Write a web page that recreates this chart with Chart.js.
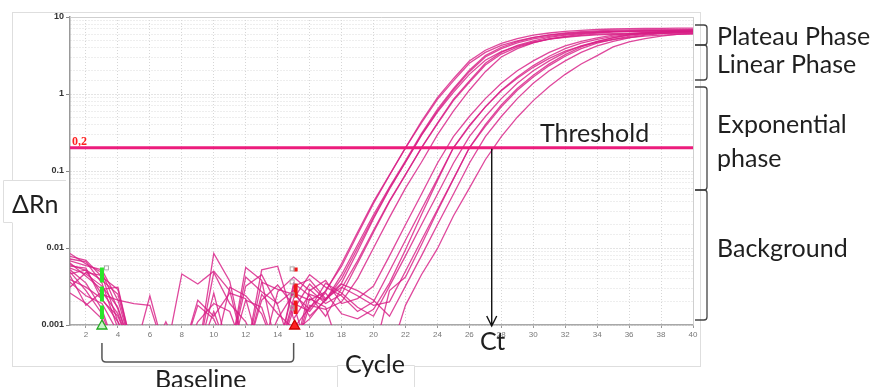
<!DOCTYPE html>
<html>
<head>
<meta charset="utf-8">
<script src="https://cdn.jsdelivr.net/npm/chart.js@4.4.1/dist/chart.umd.min.js"></script>
<style>
  html, body { margin: 0; padding: 0; background: #fff; }
  canvas { display: block; }
</style>
</head>
<body>
<canvas id="amp" width="882" height="387"></canvas>
<script>
// cycle numbers and axis ticks
var cycles = [];
for (var c = 1; c <= 40; c++) cycles.push(c);
var xTicks = [2, 4, 6, 8, 10, 12, 14, 16, 18, 20, 22, 24, 26, 28, 30, 32, 34, 36, 38, 40];
var yMajor = [0.001, 0.01, 0.1, 1, 10];
var yTickLabels = ['0.001', '0.01', '0.1', '1', '10'];

var threshold = 0.2;   // threshold line
var ctCycle = 27.4;    // where the last well crosses it
var baselineStart = 3;
var baselineEnd = 15;

// delta Rn per well, cycles 1..40 (0.0004 = below the axis)
var wellA1 = [0.0085,0.0062,0.0048,0.0016,0.0004,0.0004,0.0004,0.0004,0.0004,0.0004,0.0004,0.0004,0.0004,0.0012,0.0026,0.0021,0.0027,0.0063,0.016,0.04,0.089,0.2,0.42,0.85,1.48,2.51,3.47,4.27,4.9,5.43,5.82,6.1,6.31,6.46,6.53,6.58,6.62,6.65,6.68,6.7];
var wellA2 = [0.0072,0.0066,0.0035,0.0009,0.0004,0.0004,0.0004,0.0046,0.0034,0.005,0.0028,0.0004,0.0004,0.0004,0.0016,0.0034,0.0021,0.004,0.01,0.025,0.06,0.13,0.295,0.6,1.12,1.95,3.02,3.89,4.62,5.19,5.62,5.96,6.2,6.38,6.5,6.55,6.6,6.63,6.66,6.68];
var wellA3 = [0.0058,0.0055,0.0021,0.0013,0.0004,0.0024,0.0004,0.0004,0.0004,0.0004,0.0004,0.0021,0.0017,0.0004,0.0008,0.0012,0.0022,0.0035,0.009,0.024,0.058,0.13,0.29,0.58,1.05,1.8,2.75,3.55,4.2,4.75,5.15,5.45,5.7,5.85,5.95,6.02,6.08,6.12,6.15,6.18];
var wellA4 = [0.0046,0.0052,0.0038,0.0025,0.0004,0.0004,0.0004,0.0004,0.0004,0.0015,0.0004,0.0032,0.0045,0.0018,0.0004,0.0029,0.0019,0.0025,0.0063,0.016,0.04,0.089,0.2,0.42,0.85,1.48,2.51,3.47,4.27,4.9,5.43,5.82,6.1,6.31,6.46,6.53,6.6,6.65,6.7,6.75];
var wellA5 = [0.0068,0.0059,0.0052,0.0021,0.0019,0.0018,0.0004,0.0004,0.0004,0.0004,0.0004,0.0004,0.0004,0.0004,0.0019,0.0015,0.0028,0.0058,0.015,0.038,0.088,0.2,0.44,0.9,1.58,2.68,3.7,4.55,5.25,5.8,6.2,6.5,6.72,6.88,6.98,7.05,7.1,7.13,7.16,7.18];
var wellA6 = [0.0031,0.0048,0.0044,0.0011,0.0004,0.0004,0.0004,0.0004,0.0021,0.0013,0.0026,0.0022,0.0004,0.0004,0.0035,0.0024,0.0013,0.003,0.0068,0.017,0.041,0.09,0.2,0.41,0.82,1.42,2.38,3.3,4.05,4.65,5.15,5.52,5.78,5.98,6.1,6.16,6.2,6.23,6.25,6.27];
var wellA7 = [0.0052,0.0035,0.0016,0.0004,0.0004,0.0004,0.0011,0.0004,0.0004,0.0085,0.0037,0.0004,0.0004,0.0004,0.0004,0.0018,0.0016,0.002,0.004,0.01,0.025,0.06,0.13,0.295,0.6,1.12,1.95,3.02,3.89,4.62,5.19,5.62,5.96,6.2,6.38,6.5,6.56,6.6,6.63,6.66];
var wellA8 = [0.0078,0.0069,0.0042,0.0029,0.0004,0.0004,0.0004,0.0004,0.0004,0.0004,0.0004,0.0004,0.0052,0.0058,0.0012,0.0025,0.0021,0.0045,0.011,0.027,0.062,0.135,0.305,0.63,1.17,2.04,3.15,4.05,4.8,5.4,5.85,6.2,6.45,6.62,6.74,6.8,6.85,6.88,6.9,6.92];
var wellB1 = [0.0036,0.0024,0.0019,0.0008,0.0004,0.0004,0.0004,0.0004,0.0011,0.0019,0.0015,0.0004,0.0004,0.0027,0.0042,0.0028,0.0038,0.0019,0.0022,0.0032,0.0079,0.02,0.05,0.126,0.28,0.51,0.87,1.38,2.0,2.69,3.47,4.22,4.84,5.37,5.82,6.1,6.31,6.42,6.5,6.55];
var wellB2 = [0.0064,0.0043,0.0029,0.0031,0.0004,0.0004,0.0004,0.0004,0.0004,0.0004,0.0004,0.0056,0.0038,0.0004,0.0022,0.0045,0.0031,0.0024,0.0015,0.002,0.005,0.0126,0.0316,0.079,0.2,0.38,0.68,1.12,1.66,2.34,3.09,3.89,4.57,5.13,5.62,5.96,6.17,6.38,6.46,6.52];
var wellB3 = [0.0044,0.0018,0.0027,0.0014,0.0004,0.0004,0.0004,0.0004,0.0004,0.0026,0.0004,0.0004,0.0025,0.0014,0.0009,0.0017,0.0026,0.0014,0.0012,0.0016,0.0035,0.0095,0.027,0.075,0.2,0.39,0.68,1.1,1.6,2.22,2.9,3.6,4.2,4.7,5.1,5.42,5.65,5.82,5.93,6.0];
var wellB4 = [0.0026,0.0019,0.0012,0.0004,0.0004,0.0004,0.0004,0.0004,0.0018,0.0012,0.0004,0.0004,0.0036,0.0029,0.0025,0.0016,0.0035,0.0026,0.0017,0.0013,0.0032,0.0079,0.02,0.05,0.126,0.28,0.51,0.87,1.38,2.0,2.69,3.47,4.22,4.84,5.37,5.82,6.1,6.31,6.42,6.5];
var wellB5 = [0.0055,0.0046,0.0032,0.0017,0.0004,0.0004,0.0004,0.0004,0.0004,0.0048,0.0019,0.0011,0.0004,0.0004,0.0032,0.0039,0.0022,0.0031,0.0024,0.0018,0.002,0.005,0.0126,0.0316,0.079,0.2,0.38,0.68,1.12,1.66,2.34,3.09,3.89,4.57,5.13,5.62,5.96,6.17,6.38,6.46];
var wellB6 = [0.0061,0.0051,0.0025,0.0021,0.0004,0.0004,0.0004,0.0004,0.0004,0.0004,0.0031,0.0024,0.0014,0.0004,0.0004,0.0022,0.0017,0.0004,0.0004,0.0004,0.0028,0.0042,0.011,0.03,0.078,0.2,0.4,0.72,1.18,1.75,2.46,3.25,4.08,4.8,5.38,5.88,6.22,6.45,6.6,6.7];
var wellB7 = [0.0039,0.0031,0.0022,0.0011,0.0004,0.0004,0.0004,0.0004,0.0004,0.0004,0.0004,0.0042,0.0027,0.0019,0.0028,0.0013,0.0021,0.0034,0.0028,0.0021,0.0013,0.0032,0.0079,0.02,0.05,0.126,0.28,0.51,0.87,1.38,2.0,2.69,3.47,4.22,4.84,5.37,5.82,6.1,6.31,6.42];
var wellB8 = [0.0049,0.0028,0.0014,0.0004,0.0004,0.0004,0.0004,0.0004,0.0004,0.0004,0.0004,0.0004,0.0021,0.0033,0.0018,0.0004,0.0004,0.0004,0.0004,0.0004,0.0004,0.0018,0.0045,0.0098,0.026,0.06,0.14,0.28,0.5,0.82,1.25,1.8,2.45,3.15,4.1,4.75,5.25,5.65,5.95,6.15];

var wells = [wellA1, wellA2, wellA3, wellA4, wellA5, wellA6, wellA7, wellA8,
             wellB1, wellB2, wellB3, wellB4, wellB5, wellB6, wellB7, wellB8];

function isPow10(v) {
    var l = Math.log10(v);
    return Math.abs(l - Math.round(l)) < 1e-6;
}

var datasets = [{
    data: [{x: 1, y: threshold}, {x: 40, y: threshold}],
    borderColor: '#ec1c7c',
    borderWidth: 3,
    pointRadius: 0,
    order: 0
}];
wells.forEach(function(w) {
    datasets.push({
        data: cycles.map(function(c, i) { return {x: c, y: w[i]}; }),
        borderColor: 'rgba(216,30,134,0.82)',
        borderWidth: 1.3,
        pointRadius: 0,
        tension: 0,
        order: 1
    });
});

function bracketRight(ctx, xl, xr, y1, y2, r) {
    ctx.beginPath();
    ctx.moveTo(xl, y1);
    ctx.lineTo(xr - r, y1);
    ctx.quadraticCurveTo(xr, y1, xr, y1 + r);
    ctx.lineTo(xr, y2 - r);
    ctx.quadraticCurveTo(xr, y2, xr - r, y2);
    ctx.lineTo(xl, y2);
    ctx.stroke();
}

var notes = {
    id: 'notes',
    beforeDraw: function(chart) {
        var ctx = chart.ctx;
        ctx.save();
        ctx.fillStyle = '#fff';
        ctx.fillRect(0, 0, chart.width, chart.height);
        ctx.strokeStyle = '#dedede';
        ctx.lineWidth = 1;
        ctx.strokeRect(12.5, 12.5, 688, 354);
        ctx.restore();
    },
    afterDatasetsDraw: function(chart) {
        // solid top and right edges of the plot box
        var ctx = chart.ctx, a = chart.chartArea;
        ctx.save();
        ctx.strokeStyle = '#cfcfcf';
        ctx.lineWidth = 1;
        ctx.beginPath();
        ctx.moveTo(a.left, a.top + 0.5); ctx.lineTo(a.right + 0.5, a.top + 0.5); ctx.lineTo(a.right + 0.5, a.bottom);
        ctx.stroke();
        ctx.restore();
    },
    afterDraw: function(chart) {
        var ctx = chart.ctx;
        var xs = chart.scales.x, ys = chart.scales.y;
        var area = chart.chartArea;
        ctx.save();

        // baseline markers
        var xb1 = xs.getPixelForValue(baselineStart);
        var xb2 = xs.getPixelForValue(baselineEnd);
        var mTop = ys.getPixelForValue(0.0056), mBot = ys.getPixelForValue(0.0012);
        ctx.lineWidth = 4;
        ctx.strokeStyle = '#29e629';
        ctx.setLineDash([15, 4]);
        ctx.beginPath(); ctx.moveTo(xb1, mTop); ctx.lineTo(xb1, mBot); ctx.stroke();
        ctx.strokeStyle = '#f01818';
        ctx.setLineDash([4, 12, 14, 3, 14]);
        ctx.beginPath(); ctx.moveTo(xb2 + 2, mTop); ctx.lineTo(xb2 + 2, mBot - 5); ctx.stroke();
        ctx.setLineDash([]);
        ctx.lineWidth = 1;
        ctx.strokeStyle = '#aaa';
        ctx.strokeRect(xb1 + 2.5, mTop - 1.5, 4, 4);
        [0, 13, 26, 39].forEach(function(d) { ctx.strokeRect(xb2 - 3.5, mTop + d - 0.5, 4, 4); });
        // triangles
        ctx.beginPath();
        ctx.moveTo(xb1, area.bottom - 5); ctx.lineTo(xb1 + 5, area.bottom + 4); ctx.lineTo(xb1 - 5, area.bottom + 4); ctx.closePath();
        ctx.fillStyle = '#c9f3c9'; ctx.fill();
        ctx.strokeStyle = '#22aa22'; ctx.lineWidth = 1.3; ctx.stroke();
        ctx.beginPath();
        ctx.moveTo(xb2 + 1, area.bottom - 5); ctx.lineTo(xb2 + 6, area.bottom + 4); ctx.lineTo(xb2 - 4, area.bottom + 4); ctx.closePath();
        ctx.fillStyle = '#f22'; ctx.fill();
        ctx.strokeStyle = '#c00'; ctx.stroke();

        // threshold label
        var yt = ys.getPixelForValue(threshold);
        ctx.fillStyle = '#ff1f1f';
        ctx.font = 'bold 12px "Liberation Serif"';
        ctx.fillText('0,2', area.left + 2, yt - 3);

        // Ct arrow
        var xc = xs.getPixelForValue(ctCycle);
        ctx.strokeStyle = '#111';
        ctx.lineWidth = 1.4;
        ctx.beginPath();
        ctx.moveTo(xc, yt + 1); ctx.lineTo(xc, area.bottom + 1);
        ctx.moveTo(xc - 5, area.bottom - 9); ctx.lineTo(xc, area.bottom + 1); ctx.lineTo(xc + 5, area.bottom - 9);
        ctx.stroke();

        // label boxes that sit over the frame
        ctx.fillStyle = '#fff';
        ctx.fillRect(3, 180, 62, 43);
        ctx.fillRect(337, 365, 78, 22);
        ctx.strokeStyle = '#dedede';
        ctx.lineWidth = 1;
        ctx.beginPath();
        ctx.moveTo(66, 180.5); ctx.lineTo(3.5, 180.5); ctx.lineTo(3.5, 222.5); ctx.lineTo(12.5, 222.5);
        ctx.moveTo(337.5, 387); ctx.lineTo(337.5, 365.5); ctx.lineTo(414.5, 365.5); ctx.lineTo(414.5, 387);
        ctx.stroke();

        // baseline bracket
        ctx.strokeStyle = '#555';
        ctx.lineWidth = 1.5;
        ctx.beginPath();
        ctx.moveTo(xb1, 343); ctx.lineTo(xb1, 358);
        ctx.quadraticCurveTo(xb1, 362, xb1 + 4, 362);
        ctx.lineTo(xb2 - 4, 362);
        ctx.quadraticCurveTo(xb2, 362, xb2, 358);
        ctx.lineTo(xb2, 343);
        ctx.stroke();

        // phase brackets on the right
        ctx.strokeStyle = '#444';
        ctx.lineWidth = 1.3;
        bracketRight(ctx, 695, 707, 25, 45, 3);
        bracketRight(ctx, 695, 707, 45, 80, 3);
        bracketRight(ctx, 695, 707, 87, 190, 3);
        bracketRight(ctx, 695, 707, 190, 320, 3);

        // texts
        ctx.fillStyle = '#1f1f1f';
        ctx.font = '25px Lato';
        ctx.fillText('Plateau Phase', 717, 45);
        ctx.fillText('Linear Phase', 717, 73);
        ctx.fillText('Exponential', 717, 133);
        ctx.fillText('phase', 717, 167);
        ctx.fillText('Background', 717, 257);
        ctx.fillText('Threshold', 540, 142);
        ctx.fillText('\u0394Rn', 12, 213);
        ctx.fillText('Ct', 480, 350);
        ctx.fillText('Cycle', 345, 373);
        ctx.fillText('Baseline', 155, 388);
        ctx.restore();
    }
};

new Chart(document.getElementById('amp'), {
    type: 'line',
    data: {datasets: datasets},
    options: {
        responsive: false,
        animation: false,
        layout: {padding: {left: 0, right: 189, top: 17, bottom: 0}},
        plugins: {legend: {display: false}, tooltip: {enabled: false}},
        scales: {
            x: {
                type: 'linear',
                min: 1,
                max: 40,
                afterBuildTicks: function(s) {
                    s.ticks = xTicks.map(function(v) { return {value: v}; });
                },
                afterFit: function(s) { s.height = 62; },
                grid: {color: '#d6d6d6', tickLength: 3, tickColor: '#999'},
                border: {color: '#a8a8a8', width: 1.5, dash: [1, 2]},
                ticks: {
                    autoSkip: false, maxRotation: 0, padding: 2,
                    color: '#777', font: {family: 'Liberation Sans', size: 8}
                }
            },
            y: {
                type: 'logarithmic',
                min: 0.001,
                max: 10,
                afterFit: function(s) { s.width = 70; },
                grid: {
                    color: function(c) { return c.tick && isPow10(c.tick.value) ? '#c8c8c8' : '#dcdcdc'; },
                    tickLength: 4,
                    tickColor: function(c) { return c.tick && isPow10(c.tick.value) ? '#888' : 'rgba(0,0,0,0)'; }
                },
                border: {color: '#999', width: 1.5, dash: [1, 2]},
                ticks: {
                    autoSkip: false, padding: 2,
                    color: '#333', font: {family: 'Liberation Sans', size: 9, weight: 'bold'},
                    callback: function(v) {
                        if (!isPow10(v)) return '';
                        return yTickLabels[Math.round(Math.log10(v)) + 3];
                    }
                }
            }
        }
    },
    plugins: [notes]
});
</script>
</body>
</html>
